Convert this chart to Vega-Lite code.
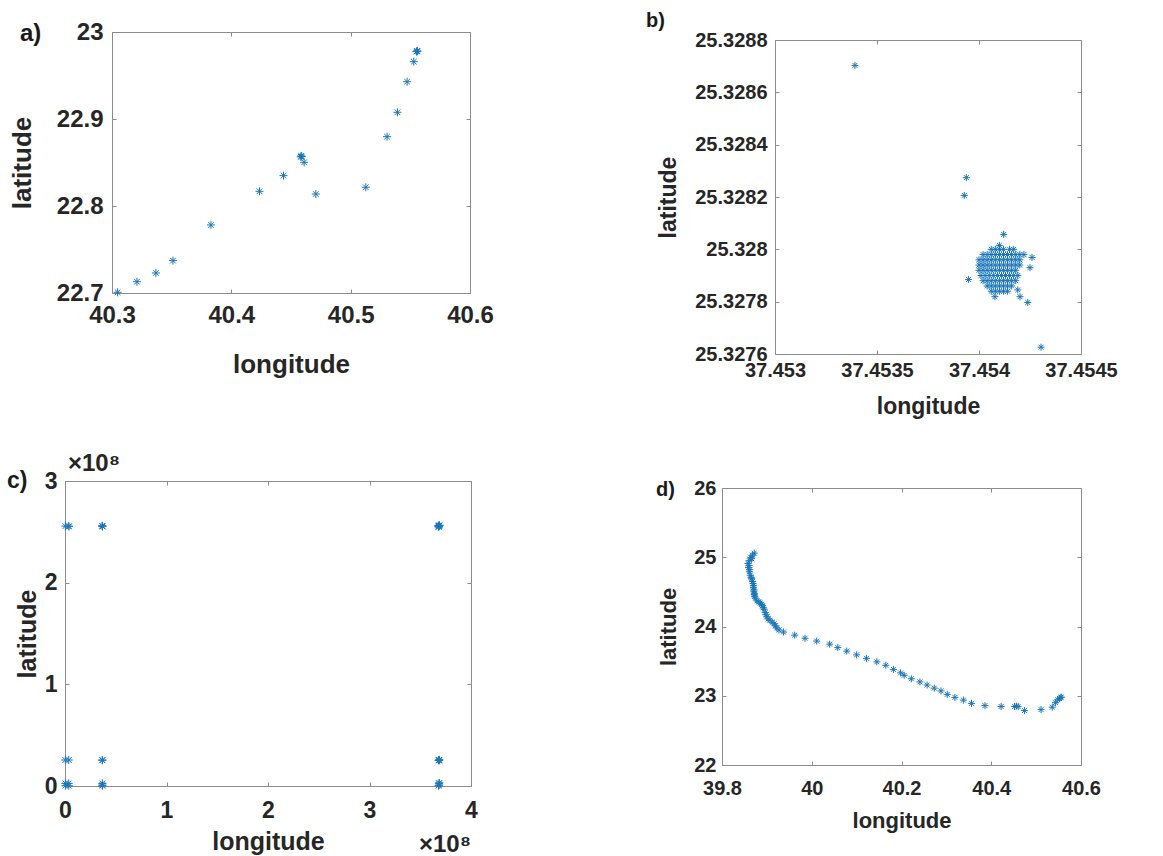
{
  "$schema": "https://vega.github.io/schema/vega-lite/v6.json",
  "background": "white",
  "padding": {"left": 7, "top": 11, "right": 5, "bottom": 0},
  "datasets": {
    "a": [
      {"lon": 40.3047, "lat": 22.7008}, {"lon": 40.3209, "lat": 22.713}, {"lon": 40.3368, "lat": 22.723},
      {"lon": 40.3511, "lat": 22.7372}, {"lon": 40.3829, "lat": 22.7782}, {"lon": 40.4236, "lat": 22.8169},
      {"lon": 40.4437, "lat": 22.8349}, {"lon": 40.4582, "lat": 22.8566}, {"lon": 40.4586, "lat": 22.8575},
      {"lon": 40.459, "lat": 22.8568}, {"lon": 40.461, "lat": 22.8502}, {"lon": 40.4708, "lat": 22.8138},
      {"lon": 40.5127, "lat": 22.8215}, {"lon": 40.5305, "lat": 22.8797}, {"lon": 40.5392, "lat": 22.9077},
      {"lon": 40.5473, "lat": 22.9429}, {"lon": 40.5529, "lat": 22.9659}, {"lon": 40.5551, "lat": 22.9775},
      {"lon": 40.5556, "lat": 22.9782}, {"lon": 40.556, "lat": 22.9778}
    ],
    "b": [
      {"lon": 37.45406, "lat": 25.328}, {"lon": 37.45408, "lat": 25.328}, {"lon": 37.4541, "lat": 25.328},
      {"lon": 37.45412, "lat": 25.328}, {"lon": 37.45415, "lat": 25.328}, {"lon": 37.45417, "lat": 25.328},
      {"lon": 37.45402, "lat": 25.32798}, {"lon": 37.45404, "lat": 25.32798}, {"lon": 37.45406, "lat": 25.32798},
      {"lon": 37.45408, "lat": 25.32798}, {"lon": 37.4541, "lat": 25.32798}, {"lon": 37.45412, "lat": 25.32798},
      {"lon": 37.45414, "lat": 25.32798}, {"lon": 37.45416, "lat": 25.32798}, {"lon": 37.45418, "lat": 25.32798},
      {"lon": 37.4542, "lat": 25.32798}, {"lon": 37.45422, "lat": 25.32798},
      {"lon": 37.454, "lat": 25.32796}, {"lon": 37.45402, "lat": 25.32796}, {"lon": 37.45404, "lat": 25.32796},
      {"lon": 37.45406, "lat": 25.32796}, {"lon": 37.45408, "lat": 25.32796}, {"lon": 37.4541, "lat": 25.32796},
      {"lon": 37.45412, "lat": 25.32796}, {"lon": 37.45414, "lat": 25.32796}, {"lon": 37.45416, "lat": 25.32796},
      {"lon": 37.45418, "lat": 25.32796}, {"lon": 37.4542, "lat": 25.32796},
      {"lon": 37.454, "lat": 25.32794}, {"lon": 37.45402, "lat": 25.32794}, {"lon": 37.45404, "lat": 25.32794},
      {"lon": 37.45406, "lat": 25.32794}, {"lon": 37.45408, "lat": 25.32794}, {"lon": 37.4541, "lat": 25.32794},
      {"lon": 37.45412, "lat": 25.32794}, {"lon": 37.45414, "lat": 25.32794}, {"lon": 37.45416, "lat": 25.32794},
      {"lon": 37.45418, "lat": 25.32794}, {"lon": 37.4542, "lat": 25.32794},
      {"lon": 37.454, "lat": 25.32792}, {"lon": 37.45402, "lat": 25.32792}, {"lon": 37.45404, "lat": 25.32792},
      {"lon": 37.45406, "lat": 25.32792}, {"lon": 37.45408, "lat": 25.32792}, {"lon": 37.4541, "lat": 25.32792},
      {"lon": 37.45412, "lat": 25.32792}, {"lon": 37.45414, "lat": 25.32792}, {"lon": 37.45416, "lat": 25.32792},
      {"lon": 37.45418, "lat": 25.32792},
      {"lon": 37.45401, "lat": 25.3279}, {"lon": 37.45403, "lat": 25.3279}, {"lon": 37.45405, "lat": 25.3279},
      {"lon": 37.45407, "lat": 25.3279}, {"lon": 37.45409, "lat": 25.3279}, {"lon": 37.45411, "lat": 25.3279},
      {"lon": 37.45413, "lat": 25.3279}, {"lon": 37.45415, "lat": 25.3279}, {"lon": 37.45417, "lat": 25.3279},
      {"lon": 37.45419, "lat": 25.3279},
      {"lon": 37.45402, "lat": 25.32788}, {"lon": 37.45404, "lat": 25.32788}, {"lon": 37.45406, "lat": 25.32788},
      {"lon": 37.45408, "lat": 25.32788}, {"lon": 37.4541, "lat": 25.32788}, {"lon": 37.45412, "lat": 25.32788},
      {"lon": 37.45414, "lat": 25.32788}, {"lon": 37.45416, "lat": 25.32788}, {"lon": 37.45418, "lat": 25.32788},
      {"lon": 37.45404, "lat": 25.32786}, {"lon": 37.45406, "lat": 25.32786}, {"lon": 37.45408, "lat": 25.32786},
      {"lon": 37.4541, "lat": 25.32786}, {"lon": 37.45412, "lat": 25.32786}, {"lon": 37.45414, "lat": 25.32786},
      {"lon": 37.45416, "lat": 25.32786},
      {"lon": 37.45406, "lat": 25.32784}, {"lon": 37.45408, "lat": 25.32784}, {"lon": 37.4541, "lat": 25.32784},
      {"lon": 37.45412, "lat": 25.32784}, {"lon": 37.45414, "lat": 25.32784},
      {"lon": 37.453392, "lat": 25.328703}, {"lon": 37.453938, "lat": 25.328274}, {"lon": 37.453928, "lat": 25.328206},
      {"lon": 37.454121, "lat": 25.328057}, {"lon": 37.4541, "lat": 25.328015}, {"lon": 37.453949, "lat": 25.327885},
      {"lon": 37.45426, "lat": 25.327969}, {"lon": 37.45425, "lat": 25.32793}, {"lon": 37.45419, "lat": 25.327845},
      {"lon": 37.454201, "lat": 25.327819}, {"lon": 37.454239, "lat": 25.327797}, {"lon": 37.454304, "lat": 25.327626},
      {"lon": 37.454078, "lat": 25.327819}
    ],
    "c": [
      {"lon": 370000, "lat": 255600000}, {"lon": 3700000, "lat": 255600000}, {"lon": 3900000, "lat": 255200000},
      {"lon": 36800000, "lat": 255600000}, {"lon": 36600000, "lat": 256000000}, {"lon": 37000000, "lat": 255200000},
      {"lon": 368400000, "lat": 255600000}, {"lon": 368800000, "lat": 256000000}, {"lon": 368000000, "lat": 255200000},
      {"lon": 369000000, "lat": 256500000}, {"lon": 368200000, "lat": 254800000}, {"lon": 367800000, "lat": 256200000},
      {"lon": 370000, "lat": 25560000}, {"lon": 3700000, "lat": 25560000}, {"lon": 36800000, "lat": 25560000},
      {"lon": 36800000, "lat": 25300000}, {"lon": 368400000, "lat": 25560000}, {"lon": 368800000, "lat": 25800000},
      {"lon": 368000000, "lat": 25300000}, {"lon": 368600000, "lat": 25100000},
      {"lon": 370000, "lat": 2556000}, {"lon": 3700000, "lat": 2556000}, {"lon": 370000, "lat": 255600},
      {"lon": 3700000, "lat": 255600}, {"lon": 36800000, "lat": 2556000}, {"lon": 36800000, "lat": 255600},
      {"lon": 36800000, "lat": 1000000}, {"lon": 368400000, "lat": 2556000}, {"lon": 368800000, "lat": 3000000},
      {"lon": 368000000, "lat": 255600}, {"lon": 368600000, "lat": 1000000}
    ],
    "d": [
      {"lon": 39.872, "lat": 25.06}, {"lon": 39.868, "lat": 25.03}, {"lon": 39.864, "lat": 25.0},
      {"lon": 39.866, "lat": 24.98}, {"lon": 39.861, "lat": 24.95}, {"lon": 39.858, "lat": 24.91},
      {"lon": 39.86, "lat": 24.88}, {"lon": 39.859, "lat": 24.85}, {"lon": 39.862, "lat": 24.82},
      {"lon": 39.861, "lat": 24.79}, {"lon": 39.863, "lat": 24.74}, {"lon": 39.865, "lat": 24.71},
      {"lon": 39.866, "lat": 24.69}, {"lon": 39.868, "lat": 24.65}, {"lon": 39.869, "lat": 24.62},
      {"lon": 39.87, "lat": 24.59}, {"lon": 39.87, "lat": 24.56}, {"lon": 39.871, "lat": 24.53},
      {"lon": 39.871, "lat": 24.51}, {"lon": 39.872, "lat": 24.48}, {"lon": 39.872, "lat": 24.46},
      {"lon": 39.873, "lat": 24.435}, {"lon": 39.874, "lat": 24.41}, {"lon": 39.878, "lat": 24.37},
      {"lon": 39.882, "lat": 24.355}, {"lon": 39.885, "lat": 24.34}, {"lon": 39.888, "lat": 24.32},
      {"lon": 39.89, "lat": 24.3}, {"lon": 39.892, "lat": 24.27}, {"lon": 39.894, "lat": 24.25},
      {"lon": 39.896, "lat": 24.2}, {"lon": 39.898, "lat": 24.17}, {"lon": 39.9, "lat": 24.14},
      {"lon": 39.903, "lat": 24.11}, {"lon": 39.907, "lat": 24.09}, {"lon": 39.912, "lat": 24.06},
      {"lon": 39.916, "lat": 24.04}, {"lon": 39.919, "lat": 24.01}, {"lon": 39.922, "lat": 23.98},
      {"lon": 39.927, "lat": 23.95}, {"lon": 39.937, "lat": 23.92}, {"lon": 39.962, "lat": 23.875},
      {"lon": 39.985, "lat": 23.83}, {"lon": 40.011, "lat": 23.79}, {"lon": 40.04, "lat": 23.745},
      {"lon": 40.058, "lat": 23.695}, {"lon": 40.078, "lat": 23.645}, {"lon": 40.1, "lat": 23.59},
      {"lon": 40.122, "lat": 23.54}, {"lon": 40.145, "lat": 23.49}, {"lon": 40.165, "lat": 23.44},
      {"lon": 40.182, "lat": 23.38}, {"lon": 40.198, "lat": 23.33}, {"lon": 40.206, "lat": 23.295},
      {"lon": 40.222, "lat": 23.245}, {"lon": 40.241, "lat": 23.2}, {"lon": 40.257, "lat": 23.155},
      {"lon": 40.273, "lat": 23.11}, {"lon": 40.288, "lat": 23.07}, {"lon": 40.302, "lat": 23.02},
      {"lon": 40.319, "lat": 22.976}, {"lon": 40.338, "lat": 22.937}, {"lon": 40.356, "lat": 22.89},
      {"lon": 40.386, "lat": 22.858}, {"lon": 40.422, "lat": 22.845}, {"lon": 40.452, "lat": 22.845},
      {"lon": 40.456, "lat": 22.85}, {"lon": 40.46, "lat": 22.843}, {"lon": 40.474, "lat": 22.786},
      {"lon": 40.511, "lat": 22.8}, {"lon": 40.536, "lat": 22.835}, {"lon": 40.543, "lat": 22.9},
      {"lon": 40.548, "lat": 22.94}, {"lon": 40.552, "lat": 22.962}, {"lon": 40.555, "lat": 22.975},
      {"lon": 40.556, "lat": 22.98}
    ]
  },
  "config": {
    "view": {"stroke": null},
    "font": "Liberation Sans",
    "axis": {
      "grid": false, "domain": true, "domainColor": "#8c8c8c", "domainWidth": 1,
      "tickColor": "#8c8c8c", "tickSize": -4, "tickWidth": 1,
      "labelFont": "Liberation Sans", "labelFontWeight": "bold", "labelColor": "#262626",
      "titleFont": "Liberation Sans", "titleFontWeight": "bold", "titleColor": "#262626",
      "labelFlush": false, "labelOverlap": false, "format": "~g"
    },
    "title": {"font": "Liberation Sans", "fontWeight": "bold", "color": "#1a1a1a", "anchor": "start", "frame": "group"}
  },
  "hconcat": [
    {
      "vconcat": [
        {
          "width": 405, "height": 261,
          "title": {"text": "a)", "fontSize": 24, "dx": -45, "dy": 30},
          "layer": [
            {
              "data": {"name": "a"},
              "mark": {"type": "point", "shape": "M-1,0L1,0M0,-1L0,1M-0.7,-0.7L0.7,0.7M-0.7,0.7L0.7,-0.7", "filled": false, "color": "#1a76b9", "strokeWidth": 1, "size": 64, "opacity": 1},
              "encoding": {
                "x": {"field": "lon", "type": "quantitative", "scale": {"domain": [40.3, 40.6], "range": [47, 405], "nice": false, "zero": false},
                      "axis": {"orient": "bottom", "values": [40.3, 40.4, 40.5, 40.6], "labelFontSize": 24, "labelPadding": 14, "title": "longitude", "titleFontSize": 26, "titlePadding": 24}},
                "y": {"field": "lat", "type": "quantitative", "scale": {"domain": [22.7, 23], "nice": false, "zero": false},
                      "axis": {"orient": "left", "offset": -47, "values": [22.7, 22.8, 22.9, 23], "labelFontSize": 24, "labelPadding": 13, "title": "latitude", "titleFontSize": 26, "titlePadding": 21}}
              }
            },
            {
              "data": {"name": "a"},
              "mark": {"type": "point", "opacity": 0},
              "encoding": {
                "x": {"field": "lon", "type": "quantitative", "axis": {"orient": "top", "values": [40.3, 40.4, 40.5, 40.6], "labels": false, "title": null}},
                "y": {"field": "lat", "type": "quantitative", "axis": {"orient": "right", "values": [22.7, 22.8, 22.9, 23], "labels": false, "title": null}}
              }
            }
          ],
          "resolve": {"axis": {"x": "independent", "y": "independent"}}
        },
        {
          "width": 406, "height": 305,
          "title": {"text": "c)", "fontSize": 23, "dx": -58, "dy": 45},
          "layer": [
            {
              "data": {"name": "c"},
              "mark": {"type": "point", "shape": "M-1,0L1,0M0,-1L0,1M-0.7,-0.7L0.7,0.7M-0.7,0.7L0.7,-0.7", "filled": false, "color": "#1a76b9", "strokeWidth": 1, "size": 64, "opacity": 1},
              "encoding": {
                "x": {"field": "lon", "type": "quantitative", "scale": {"domain": [0, 400000000], "nice": false},
                      "axis": {"orient": "bottom", "values": [0, 100000000, 200000000, 300000000, 400000000], "labelExpr": "datum.value / 1e8", "labelFontSize": 23, "labelPadding": 17, "title": "longitude", "titleFontSize": 25, "titlePadding": 7}},
                "y": {"field": "lat", "type": "quantitative", "scale": {"domain": [0, 300000000], "nice": false},
                      "axis": {"orient": "left", "values": [0, 100000000, 200000000, 300000000], "labelExpr": "datum.value / 1e8", "labelFontSize": 23, "labelPadding": 12, "title": "latitude", "titleFontSize": 25, "titlePadding": 4}}
              }
            },
            {
              "data": {"name": "c"},
              "mark": {"type": "point", "opacity": 0},
              "encoding": {
                "x": {"field": "lon", "type": "quantitative", "axis": {"orient": "top", "values": [0, 100000000, 200000000, 300000000, 400000000], "labels": false, "title": null}},
                "y": {"field": "lat", "type": "quantitative", "axis": {"orient": "right", "values": [0, 100000000, 200000000, 300000000], "labels": false, "title": null}}
              }
            },
            {
              "data": {"values": [{"t": "×10⁸"}]},
              "mark": {"type": "text", "align": "left", "baseline": "alphabetic", "dx": 3, "dy": -10, "fontSize": 24, "fontWeight": "bold", "color": "#262626"},
              "encoding": {
                "x": {"datum": 0, "type": "quantitative", "axis": null},
                "y": {"datum": 300000000, "type": "quantitative", "axis": null},
                "text": {"field": "t"}
              }
            },
            {
              "data": {"values": [{"t": "×10⁸"}]},
              "mark": {"type": "text", "align": "right", "baseline": "alphabetic", "dx": 0, "dy": 66, "fontSize": 24, "fontWeight": "bold", "color": "#262626"},
              "encoding": {
                "x": {"datum": 400000000, "type": "quantitative", "axis": null},
                "y": {"datum": 0, "type": "quantitative", "axis": null},
                "text": {"field": "t"}
              }
            }
          ],
          "resolve": {"axis": {"x": "independent", "y": "independent"}}
        }
      ],
      "spacing": 75
    },
    {
      "vconcat": [
        {
          "width": 359, "height": 322,
          "title": {"text": "b)", "fontSize": 20, "dx": -76, "dy": 5},
          "layer": [
            {
              "data": {"name": "b"},
              "mark": {"type": "point", "shape": "M-1,0L1,0M0,-1L0,1M-0.7,-0.7L0.7,0.7M-0.7,0.7L0.7,-0.7", "filled": false, "color": "#1a76b9", "strokeWidth": 1, "size": 49, "opacity": 1},
              "encoding": {
                "x": {"field": "lon", "type": "quantitative", "scale": {"domain": [37.453, 37.4545], "range": [53, 359], "nice": false, "zero": false},
                      "axis": {"orient": "bottom", "values": [37.453, 37.4535, 37.454, 37.4545], "labelFontSize": 20, "labelPadding": 10, "title": "longitude", "titleFontSize": 23, "titlePadding": 15}},
                "y": {"field": "lat", "type": "quantitative", "scale": {"domain": [25.3276, 25.3288], "range": [322, 8], "nice": false, "zero": false},
                      "axis": {"orient": "left", "offset": -53, "values": [25.3276, 25.3278, 25.328, 25.3282, 25.3284, 25.3286, 25.3288], "labelFontSize": 20, "labelPadding": 12, "title": "latitude", "titleFontSize": 23, "titlePadding": 14}}
              }
            },
            {
              "data": {"name": "b"},
              "mark": {"type": "point", "opacity": 0},
              "encoding": {
                "x": {"field": "lon", "type": "quantitative", "axis": {"orient": "top", "offset": -8, "values": [37.453, 37.4535, 37.454, 37.4545], "labels": false, "title": null}},
                "y": {"field": "lat", "type": "quantitative", "axis": {"orient": "right", "values": [25.3276, 25.3278, 25.328, 25.3282, 25.3284, 25.3286, 25.3288], "labels": false, "title": null}}
              }
            }
          ],
          "resolve": {"axis": {"x": "independent", "y": "independent"}}
        },
        {
          "width": 359, "height": 277,
          "title": {"text": "d)", "fontSize": 20, "dx": -66, "dy": 26},
          "layer": [
            {
              "data": {"name": "d"},
              "mark": {"type": "point", "shape": "M-1,0L1,0M0,-1L0,1M-0.7,-0.7L0.7,0.7M-0.7,0.7L0.7,-0.7", "filled": false, "color": "#1a76b9", "strokeWidth": 1, "size": 49, "opacity": 1},
              "encoding": {
                "x": {"field": "lon", "type": "quantitative", "scale": {"domain": [39.8, 40.6], "nice": false, "zero": false},
                      "axis": {"orient": "bottom", "values": [39.8, 40, 40.2, 40.4, 40.6], "labelFontSize": 20, "labelPadding": 17, "title": "longitude", "titleFontSize": 22, "titlePadding": 12}},
                "y": {"field": "lat", "type": "quantitative", "scale": {"domain": [22, 26], "nice": false, "zero": false},
                      "axis": {"orient": "left", "values": [22, 23, 24, 25, 26], "labelFontSize": 20, "labelPadding": 10, "title": "latitude", "titleFontSize": 22, "titlePadding": 13}}
              }
            },
            {
              "data": {"name": "d"},
              "mark": {"type": "point", "opacity": 0},
              "encoding": {
                "x": {"field": "lon", "type": "quantitative", "axis": {"orient": "top", "values": [39.8, 40, 40.2, 40.4, 40.6], "labels": false, "title": null}},
                "y": {"field": "lat", "type": "quantitative", "axis": {"orient": "right", "values": [22, 23, 24, 25, 26], "labels": false, "title": null}}
              }
            }
          ],
          "resolve": {"axis": {"x": "independent", "y": "independent"}}
        }
      ],
      "spacing": 60
    }
  ],
  "spacing": 152
}
